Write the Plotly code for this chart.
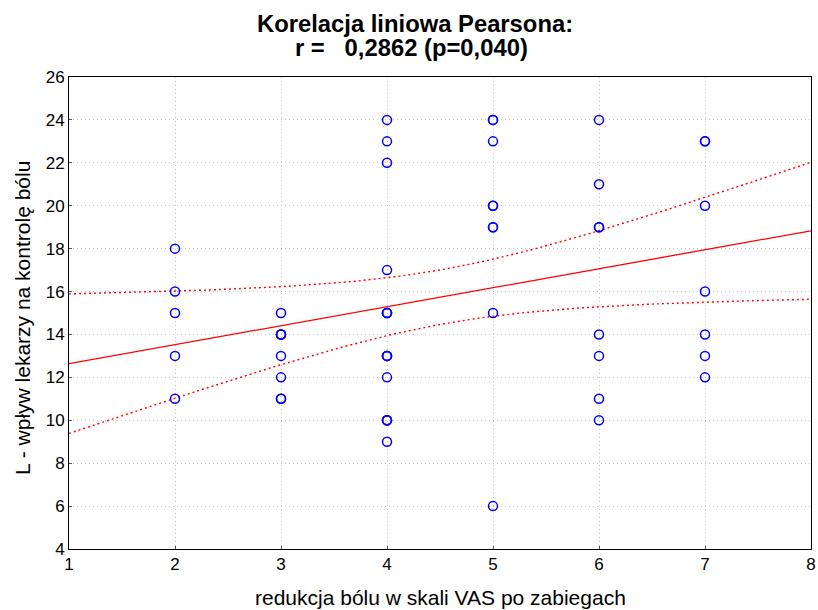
import numpy as np
import plotly.graph_objects as go

# Data (duplicates included where circles look heavier)
x_vals = ([2]*5 + [3]*8 + [4]*15 + [5]*9 + [6]*8 + [7]*7)
y_vals = ([18, 16, 15, 13, 11] +
          [15, 14, 14, 14, 13, 12, 11, 11] +
          [24, 23, 22, 17, 15, 15, 15, 13, 13, 13, 12, 10, 10, 10, 9] +
          [24, 24, 23, 20, 20, 19, 19, 15, 6] +
          [24, 21, 19, 19, 14, 13, 11, 10] +
          [23, 23, 20, 16, 14, 13, 12])

x_ticks = [1, 2, 3, 4, 5, 6, 7, 8]
y_ticks = [4, 6, 8, 10, 12, 14, 16, 18, 20, 22, 24, 26]
T_CRIT = 2.0086  # t(0.975, df=50)

title_line1 = "Korelacja liniowa Pearsona:"
title_line2 = "r =\u00a0\u00a0\u00a00,2862 (p=0,040)"
x_title = "redukcja bólu w skali VAS po zabiegach"
y_title = "L - wpływ lekarzy na kontrolę bólu"

x = np.array(x_vals, dtype=float)
y = np.array(y_vals, dtype=float)
n = len(x)
mx, my = x.mean(), y.mean()
sxx = ((x - mx) ** 2).sum()
sxy = ((x - mx) * (y - my)).sum()
slope = sxy / sxx
intercept = my - slope * mx
resid = y - (intercept + slope * x)
s = np.sqrt((resid ** 2).sum() / (n - 2))

xg = np.linspace(1, 8, 141)
yfit = intercept + slope * xg
se = s * np.sqrt(1.0 / n + (xg - mx) ** 2 / sxx)
upper = yfit + T_CRIT * se
lower = yfit - T_CRIT * se

fig = go.Figure()
for band in (upper, lower):
    fig.add_trace(go.Scatter(x=xg, y=band, mode="lines",
                             line=dict(color="red", width=1.4, dash="2px,3px"), hoverinfo="skip"))
fig.add_trace(go.Scatter(x=xg, y=yfit, mode="lines",
                         line=dict(color="red", width=1.3), hoverinfo="skip"))
fig.add_trace(go.Scatter(x=x_vals, y=y_vals, mode="markers",
                         marker=dict(symbol="circle-open", size=9, color="#0000ff",
                                     line=dict(width=1.5, color="#0000ff"))))

font_family = "Liberation Sans, Arial, sans-serif"
fig.update_layout(
    width=818, height=610,
    paper_bgcolor="white", plot_bgcolor="white",
    showlegend=False,
    margin=dict(l=69, r=7, t=77, b=61),
    font=dict(family=font_family, color="black", size=17),
    annotations=[
        dict(text="<b>" + title_line1 + "</b>", xref="paper", yref="paper",
             x=(415 - 69) / 742, y=(549 - 23.5) / 472, xanchor="center", yanchor="middle",
             showarrow=False, font=dict(size=23.8, family=font_family, color="black")),
        dict(text="<b>" + title_line2 + "</b>", xref="paper", yref="paper",
             x=(411 - 69) / 742, y=(549 - 47.5) / 472, xanchor="center", yanchor="middle",
             showarrow=False, font=dict(size=23.8, family=font_family, color="black")),
        dict(text=x_title, xref="paper", yref="paper",
             x=0.5, y=-(597 - 549) / 472, xanchor="center", yanchor="middle",
             showarrow=False, font=dict(size=21, family=font_family, color="black")),
        dict(text=y_title, xref="paper", yref="paper", textangle=-90,
             x=-(69 - 22) / 742, y=(549 - 318) / 472, xanchor="center", yanchor="middle",
             showarrow=False, font=dict(size=21, family=font_family, color="black")),
    ],
)
fig.update_xaxes(range=[1, 8], tickvals=x_ticks, ticktext=[str(t) for t in x_ticks],
                 showline=True, mirror=True, linecolor="black", linewidth=1,
                 ticks="inside", ticklen=3, tickcolor="#555",
                 showgrid=True, gridcolor="#c8c8c8", griddash="1px,3px", gridwidth=1,
                 zeroline=False, tickfont=dict(size=17), automargin=False)
fig.update_yaxes(range=[4, 26], tickvals=y_ticks, ticktext=[str(t) for t in y_ticks],
                 showline=True, mirror=True, linecolor="black", linewidth=1,
                 ticks="inside", ticklen=3, tickcolor="#555",
                 showgrid=True, gridcolor="#c8c8c8", griddash="1px,3px", gridwidth=1,
                 zeroline=False, tickfont=dict(size=17), automargin=False)

# Remove the browser's default 8px body margin so the figure fills the window exactly.
fig.write_html("out.html",
               config={"displayModeBar": False},
               post_script="document.body.style.margin='0';document.body.style.overflow='hidden';")
